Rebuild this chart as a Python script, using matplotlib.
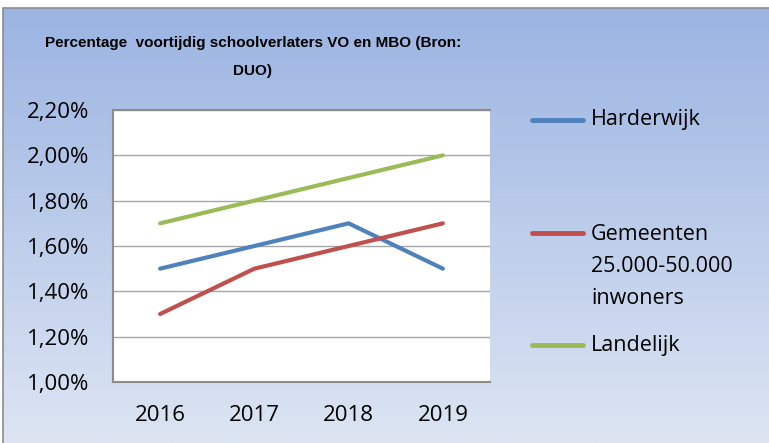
import numpy as np
import matplotlib
matplotlib.use("Agg")
from matplotlib import pyplot as plt
from matplotlib.lines import Line2D
from matplotlib.patches import Rectangle

# Data
years = ["2016", "2017", "2018", "2019"]
harderwijk = [1.5, 1.6, 1.7, 1.5]
gemeenten = [1.3, 1.5, 1.6, 1.7]
landelijk = [1.7, 1.8, 1.9, 2.0]
yticks = [1.0, 1.2, 1.4, 1.6, 1.8, 2.0, 2.2]

series = [
    ("Harderwijk", harderwijk, "#4F81BD"),
    ("Gemeenten\n25.000-50.000\ninwoners", gemeenten, "#C0504D"),
    ("Landelijk", landelijk, "#9BBB59"),
]

W, H = 769, 443
fig = plt.figure(figsize=(W / 100, H / 100), dpi=100)
fig.patch.set_facecolor("white")

# gradient background of the chart frame
bg = fig.add_axes([3 / W, 0, 1 - 3 / W, 1 - 8 / H])
top = np.array([155, 180, 226]) / 255
bottom = np.array([221, 229, 243]) / 255
t = np.linspace(0, 1, 256)[:, None]
grad = top[None, :] * (1 - t) + bottom[None, :] * t
bg.imshow(grad[:, None, :], aspect="auto", extent=[0, 1, 0, 1])
bg.set_axis_off()
fig.add_artist(Rectangle((3 / W, -0.01), 1, 1 - 8 / H + 0.01,
                         transform=fig.transFigure, fill=False,
                         edgecolor="#8C8C8C", lw=1.2))

ax = fig.add_axes([113 / W, 1 - 382 / H, (490 - 113) / W, (382 - 110) / H])
ax.set_facecolor("white")
x = np.arange(len(years))
for name, vals, col in series:
    ax.plot(x, vals, color=col, lw=3, solid_capstyle="round", zorder=3)

ax.set_xlim(-0.5, len(years) - 0.5)
ax.set_ylim(yticks[0], yticks[-1])
ax.set_yticks(yticks)
ax.set_yticklabels([f"{v:.2f}%".replace(".", ",") for v in yticks])
ax.set_xticks(x)
ax.set_xticklabels(years)
ax.yaxis.grid(True, color="#A6A6A6", lw=1)
ax.set_axisbelow(True)
ax.tick_params(length=0, labelsize=16)
for lab in ax.get_xticklabels() + ax.get_yticklabels():
    lab.set_family(["Open Sans", "DejaVu Sans"])
ax.tick_params(axis="y", pad=17)
ax.tick_params(axis="x", pad=16.5)
for s in ["left", "top", "bottom"]:
    ax.spines[s].set_color("#8C8C8C")
    ax.spines[s].set_linewidth(1.5)
ax.spines["right"].set_visible(False)

fig.text(253 / W, 1 - 57 / H,
         "Percentage  voortijdig schoolverlaters VO en MBO (Bron:\nDUO)",
         ha="center", va="center", fontsize=11, fontweight="bold",
         family=["Liberation Sans", "DejaVu Sans"],
         linespacing=2.2)

# legend drawn by hand to follow the original spacing
leg_y = [120, 233, 345]
for (name, vals, col), yy in zip(series, leg_y):
    fy = 1 - yy / H
    fig.add_artist(Line2D([532 / W, 583 / W], [fy, fy], color=col, lw=3.5,
                          solid_capstyle="round", transform=fig.transFigure))
    if "\n" in name:
        fig.text(591 / W, 1 - 224 / H, name, ha="left", va="top",
                 fontsize=15.5, family=["Open Sans", "DejaVu Sans"],
                 linespacing=1.68)
    else:
        fig.text(591 / W, fy, name, ha="left", va="center",
                 fontsize=15.5, family=["Open Sans", "DejaVu Sans"])

fig.savefig("out.png", dpi=100)
